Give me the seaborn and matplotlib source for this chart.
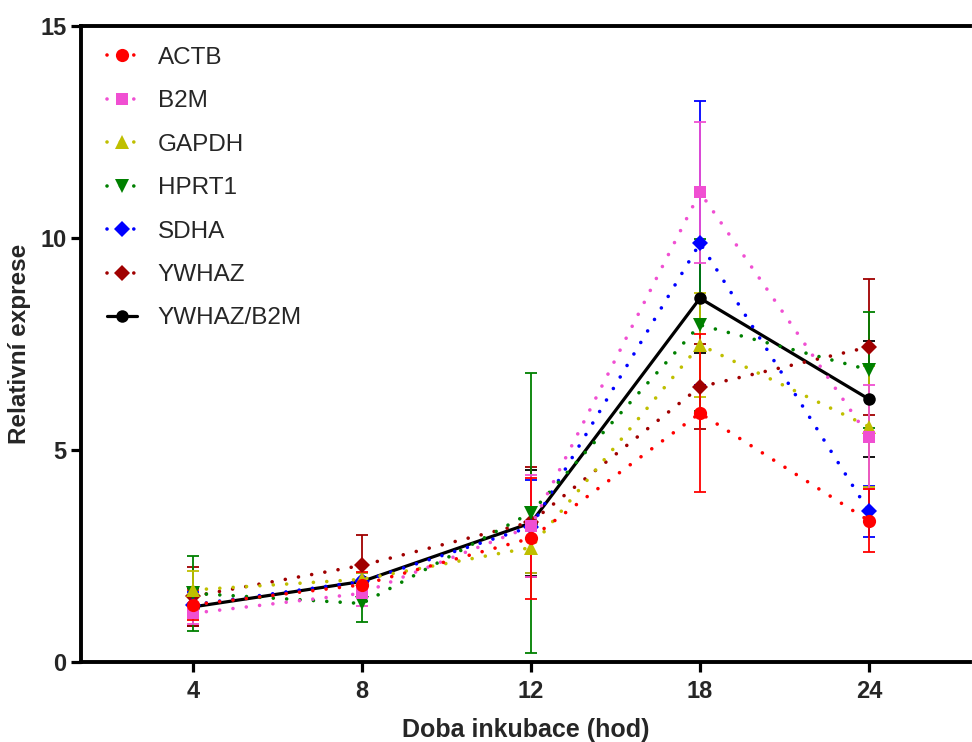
import numpy as np
import pandas as pd
import matplotlib
matplotlib.use("Agg")
import matplotlib.pyplot as plt
import seaborn as sns
from matplotlib.lines import Line2D

# ---- data ----
times = ["4", "8", "12", "18", "24"]
genes = ["ACTB", "B2M", "GAPDH", "HPRT1", "SDHA", "YWHAZ", "YWHAZ/B2M"]

actb_mean = [1.35, 1.82, 2.92, 5.87, 3.33]
actb_sd = [0.35, 0.30, 1.43, 1.87, 0.74]
b2m_mean = [1.15, 1.62, 3.20, 11.08, 5.31]
b2m_sd = [0.25, 0.30, 1.20, 1.66, 1.22]
gapdh_mean = [1.70, 1.95, 2.70, 7.48, 5.55]
gapdh_sd = [0.45, 0.15, 0.60, 1.23, 1.43]
hprt1_mean = [1.62, 1.38, 3.52, 7.95, 6.89]
hprt1_sd = [0.88, 0.43, 3.30, 2.03, 1.36]
sdha_mean = [1.35, 1.90, 3.19, 9.88, 3.55]
sdha_sd = [0.30, 0.20, 1.10, 3.35, 0.60]
ywhaz_mean = [1.55, 2.28, 3.30, 6.49, 7.43]
ywhaz_sd = [0.70, 0.72, 1.30, 1.00, 1.60]
ratio_mean = [1.30, 1.90, 3.28, 8.58, 6.20]
ratio_sd = [0.45, 0.20, 1.25, 1.30, 1.37]

means = [actb_mean, b2m_mean, gapdh_mean, hprt1_mean, sdha_mean, ywhaz_mean, ratio_mean]
sds = [actb_sd, b2m_sd, gapdh_sd, hprt1_sd, sdha_sd, ywhaz_sd, ratio_sd]

colors = ["#FF0000", "#F04FD2", "#BFBF00", "#008000", "#0000FF", "#A00000", "#000000"]
markers = ["o", "s", "^", "v", "D", "D", "o"]
msizes = [9.5, 9, 9.5, 9.5, 7.8, 7.8, 9]

rows = []
for g, m, s in zip(genes, means, sds):
    for i, t in enumerate(times):
        rows.append({"gene": g, "pos": i, "time": t, "mean": m[i], "sd": s[i]})
df = pd.DataFrame(rows)

# ---- style ----
sns.set_theme(style="ticks")
plt.rcParams["font.family"] = ["Liberation Sans", "DejaVu Sans"]

fig = plt.figure(figsize=(9.72, 7.42), dpi=100)
ax = fig.add_axes([81 / 972, 1 - 662 / 742, (970 - 81) / 972, (662 - 26) / 742])

dotted = (0, (0.01, 3.7))
order = list(range(len(genes)))[::-1]
for k in order:
    g = genes[k]
    sub = df[df["gene"] == g]
    c = colors[k]
    ax.errorbar(sub["pos"], sub["mean"], yerr=sub["sd"], fmt="none", ecolor=c,
                elinewidth=1.3, capsize=4.6, capthick=1.3, zorder=2 + (len(genes) - k) * 0.1)
    if g == "YWHAZ/B2M":
        sns.lineplot(data=sub, x="pos", y="mean", ax=ax, color=c, linewidth=2.3,
                     marker=markers[k], markersize=msizes[k], markeredgewidth=0,
                     zorder=3, legend=False)
    else:
        sns.lineplot(data=sub, x="pos", y="mean", ax=ax, color=c, linewidth=2.6,
                     linestyle=dotted, dash_capstyle="round",
                     marker=markers[k], markersize=msizes[k], markeredgewidth=0,
                     zorder=3 + (len(genes) - k) * 0.1, legend=False)

legend_handles = []
for k, g in enumerate(genes):
    if g == "YWHAZ/B2M":
        h = Line2D([], [], color=colors[k], linewidth=2.3, marker=markers[k],
                   markersize=msizes[k], markeredgewidth=0)
    else:
        h = Line2D([], [], color=colors[k], linewidth=2.6, linestyle=dotted,
                   dash_capstyle="round", marker=markers[k], markersize=msizes[k],
                   markeredgewidth=0)
    legend_handles.append(h)

leg = ax.legend(legend_handles, genes, loc="upper left", frameon=False,
                fontsize=17.5, handlelength=1.25, handletextpad=0.85,
                labelspacing=0.88, bbox_to_anchor=(0.029, 0.967),
                borderaxespad=0.0, borderpad=0.0)

ax.set_xlim(-0.663, 4.598)
ax.set_ylim(0, 15)
ax.set_xticks(range(len(times)))
ax.set_xticklabels(times)
ax.set_yticks([0, 5, 10, 15])
ax.set_yticklabels(["0", "5", "10", "15"])

for lab in ax.get_xticklabels() + ax.get_yticklabels():
    lab.set_fontweight("bold")
    lab.set_fontsize(17)

ax.tick_params(axis="both", length=7, width=2.3, color="black")
ax.tick_params(axis="x", pad=6)
ax.tick_params(axis="y", pad=3.5)
for side in ["left", "bottom", "top"]:
    ax.spines[side].set_linewidth(2.8)
    ax.spines[side].set_color("black")
ax.spines["right"].set_visible(False)

ax.set_xlabel("Doba inkubace (hod)", fontsize=18, fontweight="bold", labelpad=11)
ax.set_ylabel("Relativní exprese", fontsize=17.5, fontweight="bold")
ax.yaxis.set_label_coords(-0.056, 0.5)

fig.savefig("out.png", dpi=100)
